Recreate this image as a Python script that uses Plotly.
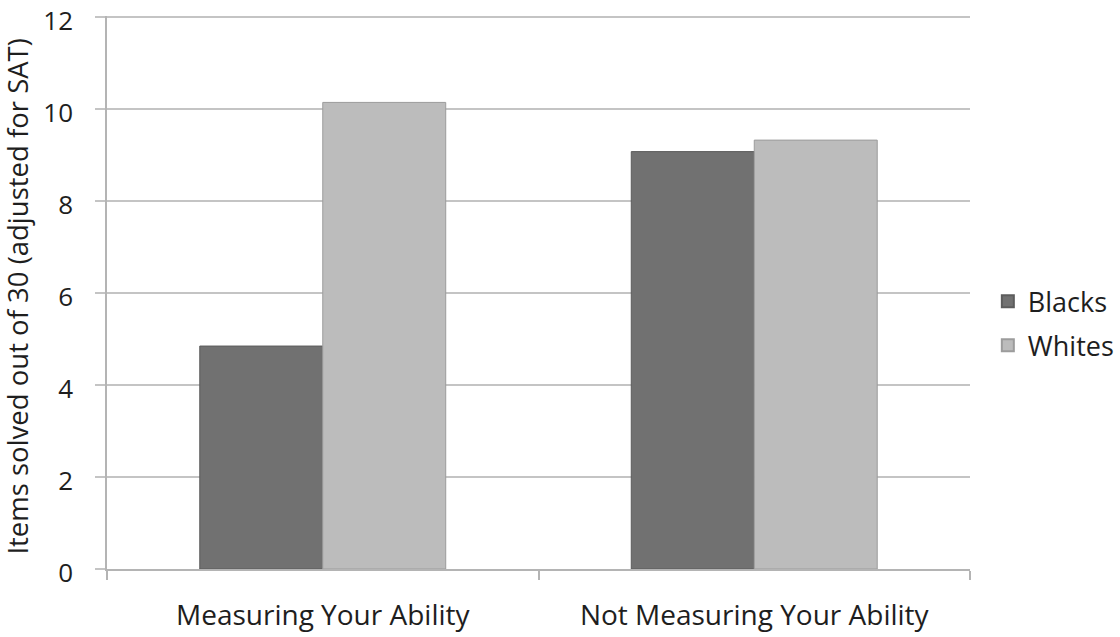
import plotly.graph_objects as go

# Conditions and group means (items solved out of 30, adjusted for SAT)
conditions = ["Measuring Your Ability", "Not Measuring Your Ability"]
groups = ["Blacks", "Whites"]
blacks = [4.85, 9.08]
whites = [10.15, 9.33]
y_ticks = [0, 2, 4, 6, 8, 10, 12]
y_title = "Items solved out of 30 (adjusted for SAT)"

FONT = "Open Sans"
TEXT = "#1e1e1e"
FILL = {"Blacks": "#717171", "Whites": "#bcbcbc"}
EDGE = {"Blacks": "#5c5c5c", "Whites": "#9c9c9c"}

fig = go.Figure()
for name, vals in zip(groups, [blacks, whites]):
    fig.add_trace(go.Bar(
        name=name, x=conditions, y=vals, showlegend=False,
        marker=dict(color=FILL[name], line=dict(color=EDGE[name], width=1)),
    ))
# legend keys drawn as larger square swatches
for name in groups:
    fig.add_trace(go.Scatter(
        name=name, x=[None], y=[None], mode="markers", legendgroup=name,
        marker=dict(symbol="square", size=18, color=FILL[name],
                    line=dict(color=EDGE[name], width=1)),
    ))

fig.update_layout(
    width=1120, height=637,
    margin=dict(l=107, r=150, t=16, b=68),
    paper_bgcolor="white", plot_bgcolor="white",
    barmode="group", bargap=0.43, bargroupgap=0,
    font=dict(family=FONT, size=28, color=TEXT),
    showlegend=True,
    legend=dict(
        xref="container", yref="container",
        x=0.882, y=0.492, xanchor="left", yanchor="middle",
        font=dict(family=FONT, size=27, color=TEXT),
        itemsizing="constant", tracegroupgap=6, itemwidth=30,
        bgcolor="rgba(0,0,0,0)",
    ),
    annotations=[dict(
        text=y_title, textangle=-90, showarrow=False,
        xref="paper", yref="paper", x=-0.104, y=0.493,
        xanchor="center", yanchor="middle",
        font=dict(family=FONT, size=27.5, color=TEXT),
    )],
)

fig.update_xaxes(
    automargin=False,
    showgrid=False, showline=True, linecolor="#b4b4b4", linewidth=1.5,
    ticks="outside", tickson="boundaries", ticklen=9, tickcolor="#b4b4b4",
    tickwidth=1.5, ticklabelstandoff=21,
    tickfont=dict(family=FONT, size=28, color=TEXT),
)
fig.update_yaxes(
    automargin=False, ticklabeloverflow="allow",
    range=[0, 12.03], tickvals=y_ticks, ticktext=[str(v) for v in y_ticks],
    showgrid=True, gridcolor="#c4c4c4", gridwidth=1.5,
    showline=True, linecolor="#b4b4b4", linewidth=1.5,
    zeroline=False,
    ticks="outside", ticklen=10, tickcolor="#c4c4c4", tickwidth=1.5,
    ticklabelstandoff=17, ticklabelshift=4,
    tickfont=dict(family=FONT, size=26, color=TEXT),
)

fig.write_html("out.html")
